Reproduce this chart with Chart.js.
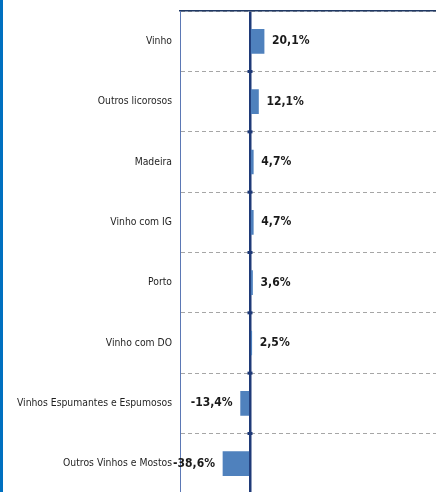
<!DOCTYPE html>
<html>
<head>
<meta charset="utf-8">
<script src="https://cdn.jsdelivr.net/npm/chart.js@4"></script>
<style>
html,body{margin:0;padding:0;width:436px;height:492px;overflow:hidden;background:#fff;}
#wrap{position:absolute;left:0;top:-3px;width:460px;height:511px;}
#strip{position:absolute;left:0;top:0;width:3px;height:492px;background:#0070C0;z-index:2;}
</style>
</head>
<body>
<div id="strip"></div>
<div id="wrap"><canvas id="c" width="460" height="511"></canvas></div>
<script>
const categories = ["Vinho","Outros licorosos","Madeira","Vinho com IG","Porto","Vinho com DO","Vinhos Espumantes e Espumosos","Outros Vinhos e Mostos"];
const changePct = [20.1, 12.1, 4.7, 4.7, 3.6, 2.5, -13.4, -38.6];
const xMin = -100, xMax = 300;

const fontFam = "'DejaVu Sans Condensed','DejaVu Sans',sans-serif";

const valueLabels = {
  id: 'valueLabels',
  afterDatasetsDraw(chart) {
    const ctx = chart.ctx;
    const meta = chart.getDatasetMeta(0);
    const xs = chart.scales.x, ys = chart.scales.y;
    ctx.save();
    // small tick marks on the zero line at category boundaries
    const x0 = xs.getPixelForValue(0);
    ctx.fillStyle = '#1F3A78';
    for (let i = 0; i < categories.length; i++) {
      const yb = ys.getPixelForValue(i) + (ys.getPixelForValue(1) - ys.getPixelForValue(0)) / 2;
      ctx.fillRect(x0 - 2.5, yb - 1.5, 5, 3);
    }
    ctx.font = "bold 12px " + fontFam;
    ctx.fillStyle = "#1a1a1a";
    ctx.textBaseline = "middle";
    meta.data.forEach((bar, i) => {
      const v = changePct[i];
      const txt = v.toFixed(1).replace('.', ',') + '%';
      if (v >= 0) {
        ctx.textAlign = "left";
        ctx.fillText(txt, bar.x + 8, bar.y);
      } else {
        ctx.textAlign = "right";
        ctx.fillText(txt, bar.x - 8, bar.y);
      }
    });
    ctx.restore();
  }
};

new Chart(document.getElementById('c'), {
  type: 'bar',
  data: {
    labels: categories,
    datasets: [{
      data: changePct,
      backgroundColor: '#4F81BD',
      borderWidth: 0,
      barThickness: 24
    }]
  },
  options: {
    indexAxis: 'y',
    responsive: false,
    animation: false,
    devicePixelRatio: 1,
    layout: { padding: { top: 5, left: 0, right: 0, bottom: 0 } },
    plugins: { legend: { display: false }, tooltip: { enabled: false } },
    scales: {
      x: {
        position: 'top',
        min: xMin, max: xMax,
        ticks: { display: false, stepSize: 100 },
        grid: {
          drawTicks: false,
          color: (c) => (c.tick && c.tick.value === 0) ? '#1F3A78' : 'rgba(0,0,0,0)',
          lineWidth: (c) => (c.tick && c.tick.value === 0) ? 2.5 : 0
        },
        border: { display: true, color: '#1F3864', width: 1.5 },
        afterFit(s) { s.height = 0; }
      },
      y: {
        ticks: {
          color: '#1f1f1f',
          font: { family: fontFam, size: 10.3 },
          padding: 8
        },
        grid: {
          offset: true,
          drawTicks: false,
          color: '#A6A6A6',
          lineWidth: 1
        },
        border: { display: true, color: '#5B78B5', width: 1, dash: [4, 3] },
        afterFit(s) { s.width = 180; }
      }
    }
  },
  plugins: [valueLabels]
});
</script>
</body>
</html>
